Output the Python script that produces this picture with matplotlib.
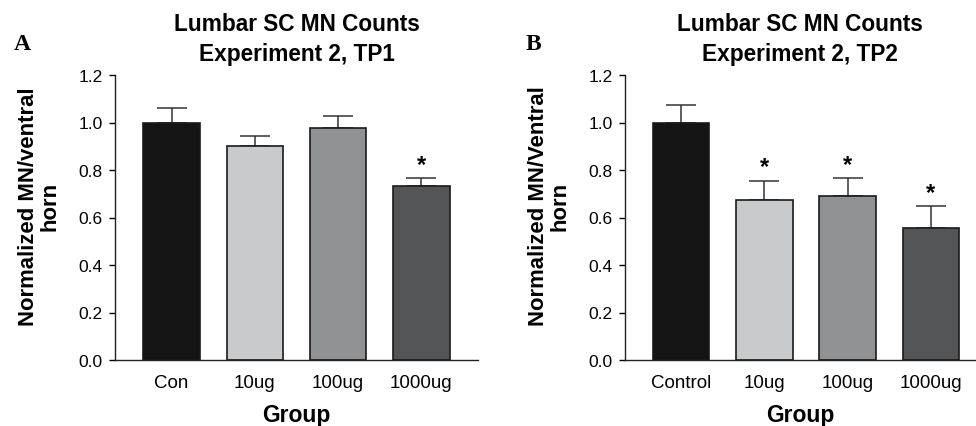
import matplotlib
matplotlib.use("Agg")
import matplotlib.pyplot as plt

plt.rcParams['font.family'] = ['Liberation Sans', 'DejaVu Sans']

labels_a = ["Con", "10ug", "100ug", "1000ug"]
means_a = [1.00, 0.902, 0.976, 0.731]
errs_a = [0.060, 0.042, 0.053, 0.035]
sig_a = [False, False, False, True]

labels_b = ["Control", "10ug", "100ug", "1000ug"]
means_b = [1.00, 0.675, 0.689, 0.557]
errs_b = [0.074, 0.080, 0.077, 0.091]
sig_b = [False, True, True, True]

colors = ["#141414", "#c9cacc", "#909193", "#545557"]
yticks = [0.0, 0.2, 0.4, 0.6, 0.8, 1.0, 1.2]

fig = plt.figure(figsize=(9.76, 4.27), dpi=100)

def panel(rect, labels, means, errs, sig, title, ylabel, letter, letter_x, xlim):
    ax = fig.add_axes(rect)
    x = list(range(len(labels)))
    ax.bar(x, means, width=0.68, color=colors, edgecolor="#1a1a1a", linewidth=1.2, zorder=2)
    ax.errorbar(x, means, yerr=[[0]*len(errs), errs], fmt="none", ecolor="#333333",
                elinewidth=1.1, capsize=10.5, capthick=1.1, zorder=1)
    for xi, m, e, s in zip(x, means, errs, sig):
        if s:
            ax.text(xi, m + e + 0.058, "*", ha="center", va="center", fontsize=17, fontweight="bold")
    ax.set_ylim(0, 1.2)
    ax.set_xlim(*xlim)
    ax.set_yticks(yticks)
    ax.set_yticklabels([f"{v:.1f}" for v in yticks], fontsize=12.5)
    ax.set_xticks(x)
    ax.set_xticklabels(labels, fontsize=13.5)
    ax.tick_params(axis="x", length=0, pad=10)
    ax.tick_params(axis="y", length=4, width=1, direction="out", pad=5)
    for s in ["top", "right"]:
        ax.spines[s].set_visible(False)
    for s in ["left", "bottom"]:
        ax.spines[s].set_linewidth(1)
        ax.spines[s].set_color("#222222")
    ax.set_title(title, fontsize=16.3, fontweight="bold", pad=11, linespacing=1.35)
    ax.set_xlabel("Group", fontsize=16.5, fontweight="bold", labelpad=9)
    ax.set_ylabel(ylabel, fontsize=15.9, fontweight="bold", labelpad=13, linespacing=1.0)
    ax.yaxis.label.set_y(0.542)
    fig.text(letter_x, 1 - 44/427, letter, fontsize=17, fontweight="bold",
             family="Liberation Serif", ha="center", va="center")
    return ax

panel([115/976, 66/427, 363/976, 285/427], labels_a, means_a, errs_a, sig_a,
      "Lumbar SC MN Counts\nExperiment 2, TP1", "Normalized MN/ventral\nhorn", "A", 22/976,
      (-0.68, 3.68))
panel([625/976, 66/427, 350/976, 285/427], labels_b, means_b, errs_b, sig_b,
      "Lumbar SC MN Counts\nExperiment 2, TP2", "Normalized MN/Ventral\nhorn", "B", 533/976,
      (-0.67, 3.53))

fig.savefig("out.png", dpi=100)
